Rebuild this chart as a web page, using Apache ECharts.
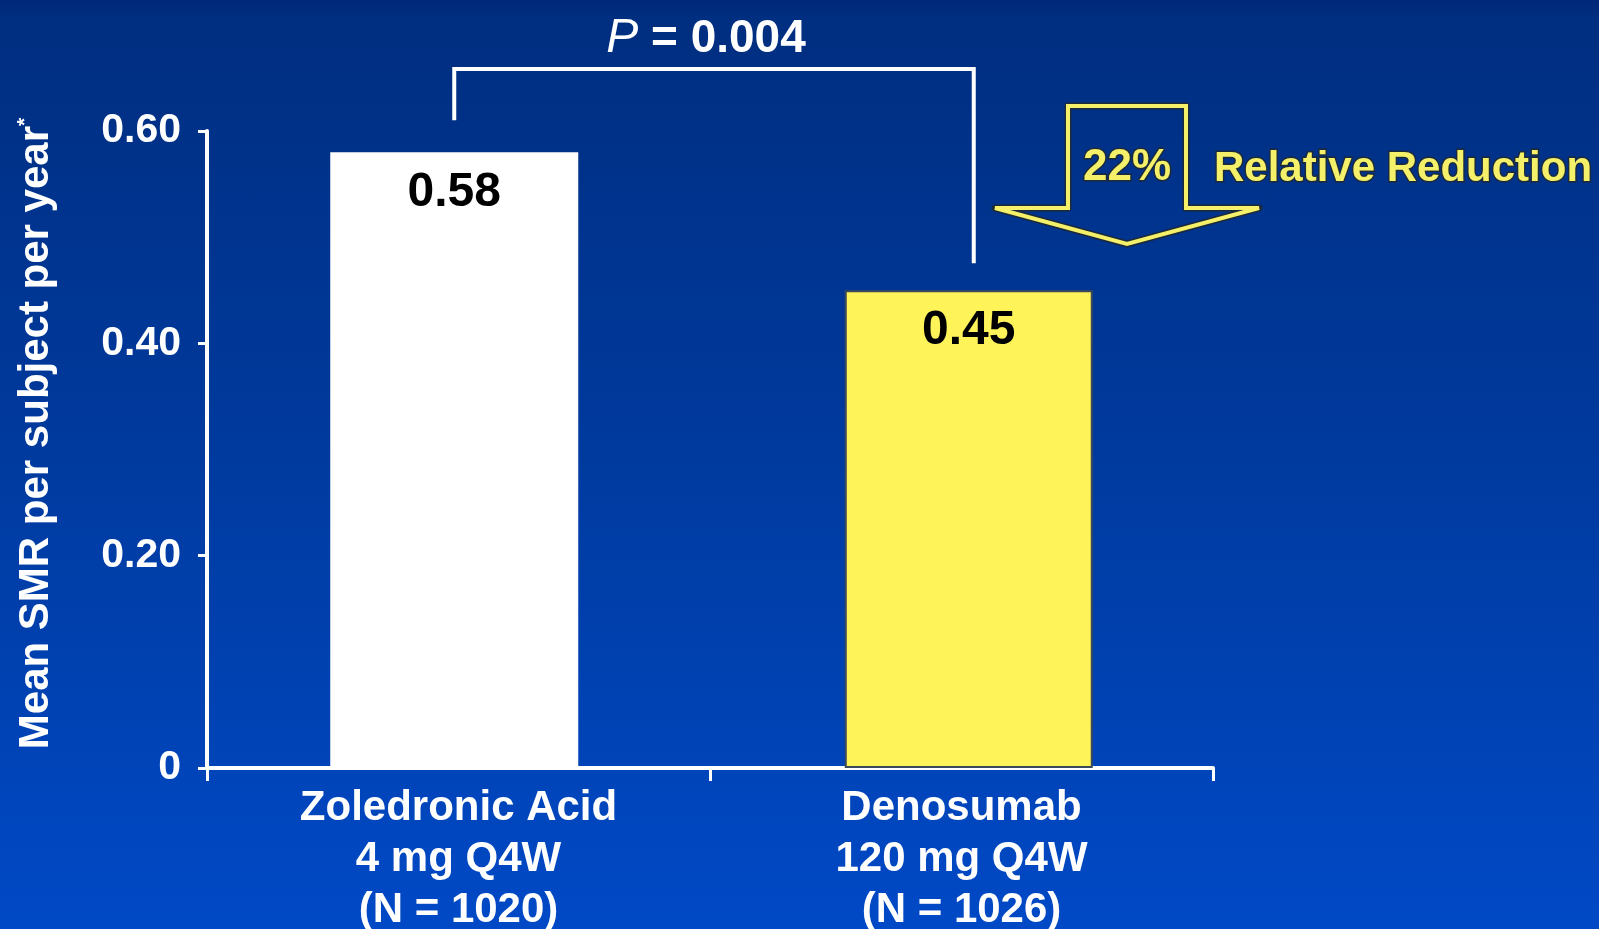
<!DOCTYPE html>
<html>
<head>
<meta charset="utf-8">
<script src="https://cdn.jsdelivr.net/npm/echarts@6/dist/echarts.min.js"></script>
<style>
html,body{margin:0;padding:0;width:1599px;height:929px;overflow:hidden;
background:linear-gradient(to bottom,#00287a 0px,#002e80 16px,#003a9e 450px,#0049c6 929px);}
#c{width:1599px;height:929px;}
</style>
</head>
<body>
<div id="c"></div>
<script>
const categories = ['Zoledronic Acid\n4 mg Q4W\n(N = 1020)', 'Denosumab\n120 mg Q4W\n(N = 1026)'];
const values = [0.58, 0.45];
const barColors = ['#ffffff', '#fff35a'];
const yTickValues = [0, 0.2, 0.4, 0.6];
const pText = '0.004';
const reductionPct = '22%';
const reductionText = 'Relative Reduction';
const yName = 'Mean SMR per subject per year';

const FONT = '"Liberation Sans", Arial, Helvetica, sans-serif';
const chart = echarts.init(document.getElementById('c'), null, {renderer: 'canvas'});

const yMin = yTickValues[0], yMax = yTickValues[yTickValues.length - 1];
const gridTop = 131, gridBottom = 161;

const option = {
  backgroundColor: 'transparent',
  animation: false,
  grid: [
    {left: 207, right: 386, top: gridTop, bottom: gridBottom, containLabel: false, outerBoundsMode: 'none'},
    {left: 197, right: 373, top: gridTop, bottom: gridBottom, containLabel: false, outerBoundsMode: 'none'}
  ],
  xAxis: [{
    type: 'category',
    gridIndex: 0,
    data: categories,
    boundaryGap: true,
    axisLine: {lineStyle: {color: '#ffffff', width: 4}},
    axisTick: {show: true, length: 13, lineStyle: {color: '#ffffff', width: 3}},
    axisLabel: {color: '#ffffff', fontFamily: FONT, fontWeight: 'bold', fontSize: 42,
      lineHeight: 51, margin: 15, interval: 0}
  }, {
    type: 'category', gridIndex: 1, data: categories, boundaryGap: true, show: false
  }],
  yAxis: [{
    type: 'value',
    gridIndex: 0,
    min: yMin, max: yMax, interval: 0.2,
    splitLine: {show: false},
    axisLine: {show: true, lineStyle: {color: '#ffffff', width: 4}},
    axisTick: {show: true, length: 9, lineStyle: {color: '#ffffff', width: 3}},
    axisLabel: {color: '#ffffff', fontFamily: FONT, fontWeight: 'bold', fontSize: 41, margin: 26,
      formatter: v => v === 0 ? '0' : v.toFixed(2)},
    name: '{a|' + yName + '}{s|*}',
    nameLocation: 'middle',
    nameGap: 150,
    nameRotate: 90,
    nameTextStyle: {
      padding: [0, 0, 0, 32],
      rich: {
        a: {color: '#ffffff', fontFamily: FONT, fontWeight: 'bold', fontSize: 42},
        s: {color: '#ffffff', fontFamily: FONT, fontWeight: 'bold', fontSize: 21, verticalAlign: 'top', padding: [0,0,18,0]}
      }
    }
  }, {
    type: 'value', gridIndex: 1, min: yMin, max: yMax, interval: 0.2, show: false
  }],
  series: [{
    type: 'bar',
    xAxisIndex: 1, yAxisIndex: 1,
    barWidth: 248,
    data: values.map((v, i) => ({value: v, itemStyle: {color: barColors[i],
      borderColor: i === 1 ? '#3a4a5a' : barColors[i], borderWidth: i === 1 ? 2 : 0}})),
    label: {
      show: true, position: 'insideTop', distance: 17,
      color: '#000000', fontFamily: FONT, fontWeight: 'bold', fontSize: 48,
      formatter: p => p.value.toFixed(2)
    }
  }]
};
chart.setOption(option);

const b0 = chart.convertToPixel({seriesIndex: 0}, [0, values[0]]);
const b1 = chart.convertToPixel({seriesIndex: 0}, [1, values[1]]);
const bracketTop = 69;
const x0 = b0[0], x1 = b1[0] + 5;
const midX = (x0 + x1) / 2;

// arrow geometry (annotation)
const ax = 1127, aTop = 106, shaftHalf = 59, headBase = 208, headHalf = 132, tipY = 244;
const arrowPts = [
  [ax - shaftHalf, aTop], [ax + shaftHalf, aTop], [ax + shaftHalf, headBase],
  [ax + headHalf, headBase], [ax, tipY], [ax - headHalf, headBase], [ax - shaftHalf, headBase]
];

chart.setOption({
  graphic: [
    {type: 'polyline', shape: {points: [[x0, b0[1] - 32], [x0, bracketTop], [x1, bracketTop], [x1, b1[1] - 27]]},
      style: {stroke: '#ffffff', lineWidth: 4, fill: null}},
    {type: 'text', x: midX - 8, y: 39,
      style: {text: '{i|P}{n| = ' + pText + '}', align: 'center', verticalAlign: 'middle',
        rich: {i: {fontFamily: FONT, fontStyle: 'italic', fontSize: 48, fill: '#ffffff', fontWeight: 'normal'},
               n: {fontFamily: FONT, fontWeight: 'bold', fontSize: 46, fill: '#ffffff'}}}},
    {type: 'polygon', shape: {points: arrowPts}, style: {fill: null, stroke: '#1c2a3a', lineWidth: 7, lineJoin: 'round'}},
    {type: 'polygon', shape: {points: arrowPts}, style: {fill: null, stroke: '#f4f06a', lineWidth: 4, lineJoin: 'miter', miterLimit: 3}},
    {type: 'text', x: ax, y: 168,
      style: {text: reductionPct, align: 'center', verticalAlign: 'middle', fontFamily: FONT, fontWeight: 'bold',
        fontSize: 44, fill: '#f4f06a', stroke: '#1c2a3a', lineWidth: 3}},
    {type: 'text', x: 1214, y: 169,
      style: {text: reductionText, align: 'left', verticalAlign: 'middle', fontFamily: FONT, fontWeight: 'bold',
        fontSize: 42, fill: '#f4f06a', stroke: '#1c2a3a', lineWidth: 3}}
  ]
});
</script>
</body>
</html>
